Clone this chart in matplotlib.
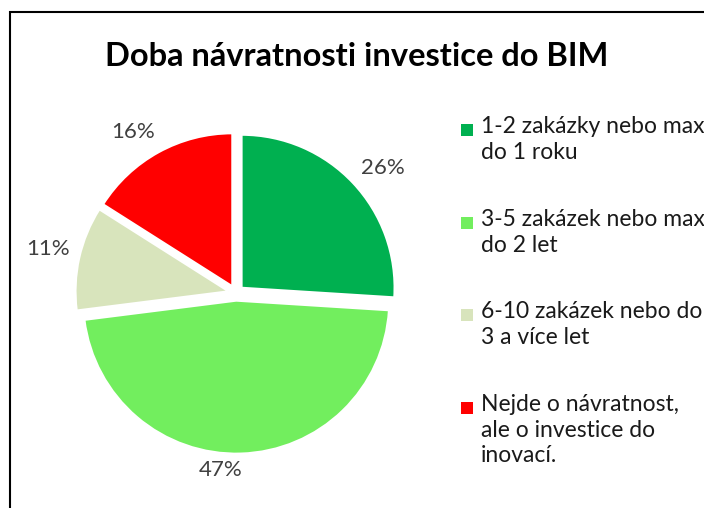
import matplotlib.pyplot as plt
from matplotlib.patches import Rectangle

categories = ['1-2 zakázky nebo max\ndo 1 roku',
              '3-5 zakázek nebo max\ndo 2 let',
              '6-10 zakázek nebo do\n3 a více let',
              'Nejde o návratnost,\nale o investice do\ninovací.']
shares = [26, 47, 11, 16]
colors = ['#00B050', '#72EE5E', '#D8E4BC', '#FF0000']
title = 'Doba návratnosti investice do BIM'

plt.rcParams['font.family'] = ['Lato', 'DejaVu Sans']

W, H = 704, 508
fig = plt.figure(figsize=(W / 100, H / 100), dpi=100)

# pie axes: center (236, 293) px, radius 153 px
r = 153
cx, cy = 236, 293
half = 1.5 * r
ax = fig.add_axes([(cx - half) / W, (H - cy - half) / H, 2 * half / W, 2 * half / H])

wedges, texts, autotexts = ax.pie(shares, colors=colors, startangle=90, counterclock=False,
                                  explode=[0.05] * 4, radius=1,
                                  autopct='%d%%', pctdistance=1.24,
                                  wedgeprops=dict(linewidth=1.5, edgecolor='white'),
                                  textprops=dict(fontsize=16, color='#404040'))
ax.set_xlim(-1.5, 1.5)
ax.set_ylim(-1.5, 1.5)
ax.axis('off')
# label placement as in the original (not exactly on the mid angle)
label_pos = [(0.96, 0.82), (-0.1, -1.157), (-1.23, 0.29), (-0.67, 1.05)]
for t, p in zip(autotexts, label_pos):
    t.set_position(p)

# frame (only left and top visible)
fig.patches.append(Rectangle((10 / W, -0.1), 1.2, (H - 12) / H + 0.1, transform=fig.transFigure,
                             fill=False, edgecolor='black', linewidth=1.5))

fig.text(357 / W, 1 - 56 / H, title, ha='center', va='center', fontsize=23.5, fontweight='bold')

# legend, marker aligned with first line
entry_top = [129, 222, 314, 407]
for lab, col, y in zip(categories, colors, entry_top):
    fig.patches.append(Rectangle((461 / W, 1 - (y + 6.5) / H), 12 / W, 12 / H,
                                 transform=fig.transFigure, facecolor=col, edgecolor='none'))
    fig.text(481 / W, 1 - (y - 13) / H, lab, ha='left', va='top', fontsize=16.5,
             color='#1a1a1a', linespacing=1.27)

fig.savefig('out.png', dpi=100)
